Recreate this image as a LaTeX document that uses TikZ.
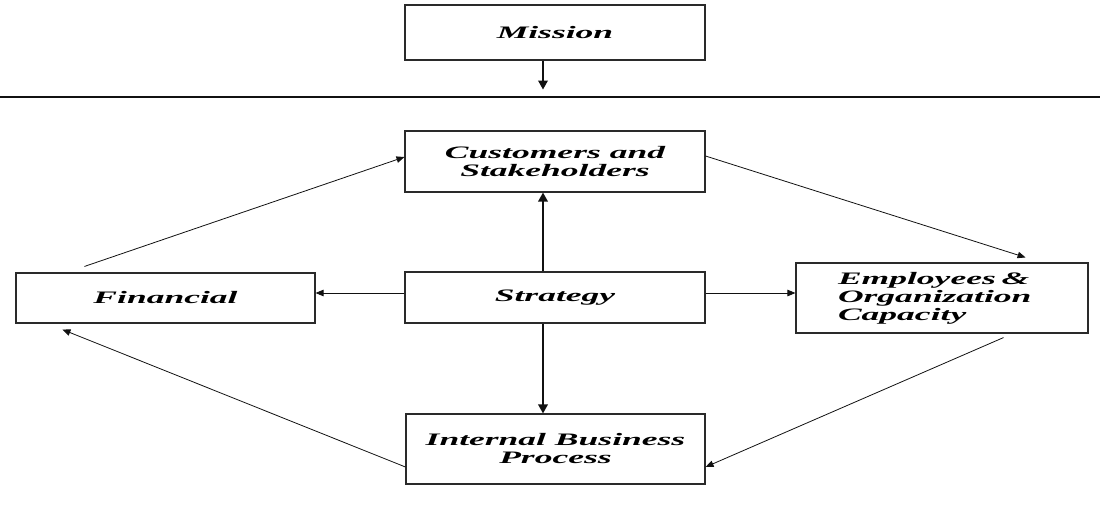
\documentclass[tikz,border=0pt]{standalone}
\usepackage{fontspec}
\usetikzlibrary{positioning,arrows.meta,calc}
\newfontfamily\boxfont[FakeStretch=2.03]{Liberation Serif}
\definecolor{inkBlack}{HTML}{111111}
\definecolor{boxLine}{HTML}{2A2A2A}
\tikzset{
    block/.style={draw=boxLine,fill=white,line width=1.1pt,minimum width=300pt,
        minimum height=52pt,align=center,inner sep=2pt,
        font=\boxfont\bfseries\itshape\fontsize{17.5}{18}\selectfont},
    arrow/.style={-{Triangle[length=8pt,width=6.5pt]},draw=inkBlack,line width=0.8pt},
    thickarrow/.style={-{Triangle[length=9pt,width=9.5pt]},draw=inkBlack,line width=1.8pt},
    rule/.style={draw=inkBlack,line width=1.6pt}
}
\begin{document}
\begin{tikzpicture}[x=1pt,y=-1pt]
    \useasboundingbox (0,0) rectangle (1100,519);
    % axis of the vertical arrows and the dividing rule
    \coordinate (axis) at (543,0);
    \coordinate (ruleL) at (0,97);
    \coordinate (ruleR) at (1100,97);
    \node[block,minimum height=55pt] (mission) at (555,32.5) {Mission};
    \node[block,minimum height=61pt] (cust) at (555,161.5) {Customers and\\Stakeholders};
    \node[block,minimum height=51pt] (strategy) at (555,297.5) {Strategy};
    \node[block,minimum width=299pt,minimum height=50pt] (financial) at (165.5,298) {Financial};
    \node[block,minimum width=292pt,minimum height=70pt,align=left,
        text width=208pt] (employees) at (942,298) {Employees \&\\Organization\\Capacity};
    \node[block,minimum width=299pt,minimum height=70pt] (internal) at (555.5,449) {Internal Business\\Process};
    % mission over the rule
    \draw[rule] (ruleL) -- (ruleR);
    \draw[thickarrow] (mission.south -| axis) -- ++(0,29);
    % strategy to the four perspectives
    \draw[thickarrow] (strategy.north -| axis) -- (cust.south -| axis);
    \draw[thickarrow] (strategy.south -| axis) -- (internal.north -| axis);
    \draw[arrow] ([yshift=4.5pt]strategy.west) -- ([yshift=5pt]financial.east);
    \draw[arrow] ([yshift=4.5pt]strategy.east) -- ([yshift=5pt]employees.west);
    % the cycle round the outside
    \draw[arrow] ([xshift=69pt,yshift=6pt]financial.north west) -- ([yshift=4.5pt]cust.west);
    \draw[arrow] ([yshift=5.5pt]cust.east) -- ([xshift=-63pt,yshift=5pt]employees.north east);
    \draw[arrow] ([xshift=-85pt,yshift=-4pt]employees.south east) -- ([yshift=-18pt]internal.east);
    \draw[arrow] ([yshift=-18pt]internal.west) -- ([xshift=47pt,yshift=-6pt]financial.south west);
\end{tikzpicture}
\end{document}
